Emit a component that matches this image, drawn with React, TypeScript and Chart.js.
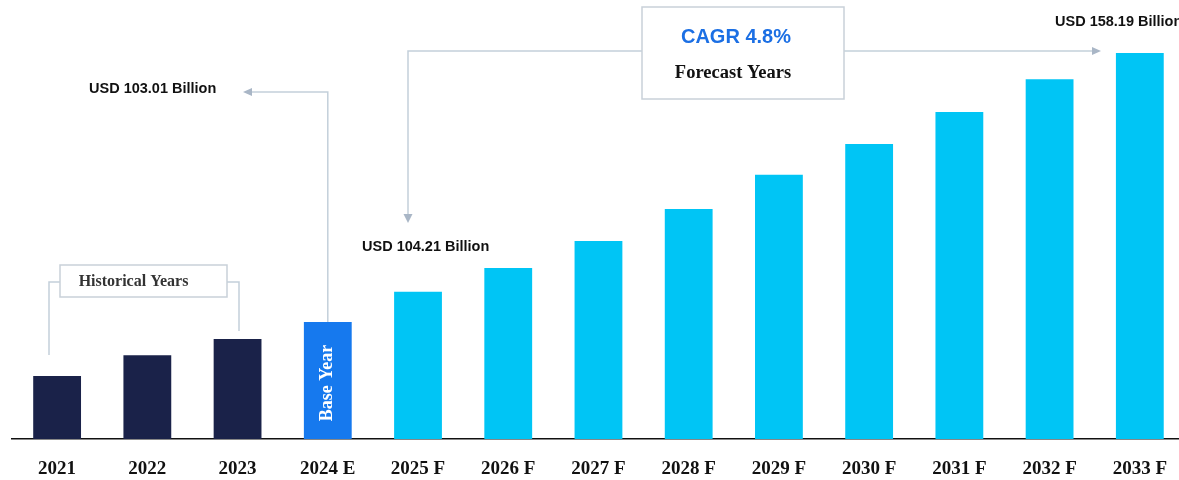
import React, { useEffect, useRef } from "react";
import { Chart, registerables } from "chart.js";

Chart.register(...registerables);

const categories = [
  "2021", "2022", "2023", "2024 E", "2025 F", "2026 F", "2027 F",
  "2028 F", "2029 F", "2030 F", "2031 F", "2032 F", "2033 F",
];
// Market size, USD billion
const marketValues = [
  91.9, 96.2, 99.5, 103.01, 109.2, 114.1, 119.6, 126.2, 133.2, 139.5, 146.1, 152.8, 158.19,
];
const periodKinds = [
  "historical", "historical", "historical", "base", "forecast", "forecast", "forecast",
  "forecast", "forecast", "forecast", "forecast", "forecast", "forecast",
];
const startValueLabel = "USD 103.01 Billion";
const forecastStartLabel = "USD 104.21 Billion";
const endValueLabel = "USD 158.19 Billion";
const cagrLabel = "CAGR 4.8%";
const forecastLabel = "Forecast Years";
const historicalLabel = "Historical Years";
const baseYearLabel = "Base Year";

const COLORS: Record<string, string> = {
  historical: "#1a2249",
  base: "#1679ee",
  forecast: "#00c5f5",
};

const LINE = "#c3d0da";
const ARROW = "#a9b6c6";
const BOX = "#c9d1d9";
const SANS = "'Liberation Sans', Arial, sans-serif";
const SERIF = "'Liberation Serif', 'Times New Roman', serif";

function arrowHead(ctx: CanvasRenderingContext2D, x: number, y: number, dir: "left" | "right" | "down") {
  ctx.save();
  ctx.fillStyle = ARROW;
  ctx.beginPath();
  if (dir === "left") {
    ctx.moveTo(x, y);
    ctx.lineTo(x + 9, y - 4);
    ctx.lineTo(x + 9, y + 4);
  } else if (dir === "right") {
    ctx.moveTo(x, y);
    ctx.lineTo(x - 9, y - 4);
    ctx.lineTo(x - 9, y + 4);
  } else {
    ctx.moveTo(x, y);
    ctx.lineTo(x - 4.5, y - 9);
    ctx.lineTo(x + 4.5, y - 9);
  }
  ctx.closePath();
  ctx.fill();
  ctx.restore();
}

function polyline(ctx: CanvasRenderingContext2D, pts: number[][]) {
  ctx.save();
  ctx.strokeStyle = LINE;
  ctx.lineWidth = 1.5;
  ctx.beginPath();
  ctx.moveTo(pts[0][0], pts[0][1]);
  for (let i = 1; i < pts.length; i++) ctx.lineTo(pts[i][0], pts[i][1]);
  ctx.stroke();
  ctx.restore();
}

function box(ctx: CanvasRenderingContext2D, x: number, y: number, w: number, h: number) {
  ctx.save();
  ctx.fillStyle = "#ffffff";
  ctx.fillRect(x, y, w, h);
  ctx.strokeStyle = BOX;
  ctx.lineWidth = 1.5;
  ctx.strokeRect(x, y, w, h);
  ctx.restore();
}

function text(
  ctx: CanvasRenderingContext2D, s: string, x: number, y: number, font: string,
  color: string, align: CanvasTextAlign = "left",
) {
  ctx.save();
  ctx.font = font;
  ctx.fillStyle = color;
  ctx.textAlign = align;
  ctx.textBaseline = "middle";
  ctx.fillText(s, x, y);
  ctx.restore();
}

const annotationPlugin = {
  id: "infographicAnnotations",
  afterDatasetsDraw(chart: any) {
    const ctx: CanvasRenderingContext2D = chart.ctx;
    const xs = chart.scales.x;
    const ys = chart.scales.y;
    const baseIdx = periodKinds.indexOf("base");
    const bx = xs.getPixelForValue(baseIdx);
    const bTop = ys.getPixelForValue(marketValues[baseIdx]);

    // Base year -> start value
    polyline(ctx, [[bx, bTop], [bx, 92], [250, 92]]);
    arrowHead(ctx, 243, 92, "left");
    text(ctx, startValueLabel, 89, 89, `bold 14.5px ${SANS}`, "#111111");

    // CAGR box & connectors
    polyline(ctx, [[642, 51], [408, 51], [408, 214]]);
    arrowHead(ctx, 408, 223, "down");
    polyline(ctx, [[844, 51], [1093, 51]]);
    arrowHead(ctx, 1101, 51, "right");
    box(ctx, 642, 7, 202, 92);
    text(ctx, cagrLabel, 736, 37, `bold 20px ${SANS}`, "#1b6fe4", "center");
    text(ctx, forecastLabel, 733, 73, `bold 18.5px ${SERIF}`, "#111111", "center");

    text(ctx, forecastStartLabel, 362, 247, `bold 14.5px ${SANS}`, "#111111");
    text(ctx, endValueLabel, 1055, 22, `bold 14.5px ${SANS}`, "#111111");

    // Historical bracket
    polyline(ctx, [[60, 282], [49, 282], [49, 355]]);
    polyline(ctx, [[227, 282], [239, 282], [239, 331]]);
    box(ctx, 60, 265, 167, 32);
    text(ctx, historicalLabel, 133.5, 282, `bold 16px ${SERIF}`, "#333333", "center");

    // Base Year rotated text
    ctx.save();
    ctx.translate(bx, 383);
    ctx.rotate(-Math.PI / 2);
    text(ctx, baseYearLabel, 0, 0, `bold 18px ${SERIF}`, "#ffffff", "center");
    ctx.restore();
  },
};

export default function App() {
  const ref = useRef<HTMLCanvasElement>(null);

  useEffect(() => {
    if (!ref.current) return;
    const chart = new Chart(ref.current, {
      type: "bar",
      data: {
        labels: categories,
        datasets: [
          {
            data: marketValues,
            backgroundColor: periodKinds.map((k) => COLORS[k]),
            borderWidth: 0,
            categoryPercentage: 1,
            barPercentage: 0.53,
          },
        ],
      },
      options: {
        responsive: false,
        animation: false,
        devicePixelRatio: 1,
        layout: { padding: { left: 12, right: 0, top: 10, bottom: 0 } },
        plugins: {
          legend: { display: false },
          tooltip: { enabled: false },
        },
        scales: {
          x: {
            grid: { display: false, drawTicks: false },
            border: { display: true, color: "#111111", width: 1.5 },
            ticks: {
              color: "#111111",
              padding: 19,
              maxRotation: 0,
              autoSkip: false,
              font: { family: SERIF, size: 19, weight: "bold" },
            },
            afterFit: (scale: any) => {
              scale.height = 41;
            },
          },
          y: {
            display: false,
            min: 79,
            max: 167,
          },
        },
      },
      plugins: [annotationPlugin],
    });
    return () => chart.destroy();
  }, []);

  return (
    <div
      style={{
        position: "absolute",
        left: 0,
        top: 0,
        width: 1179,
        height: 480,
        overflow: "hidden",
        background: "#ffffff",
      }}
    >
      <canvas ref={ref} width={1186} height={480} style={{ width: 1186, height: 480, display: "block" }} />
    </div>
  );
}
